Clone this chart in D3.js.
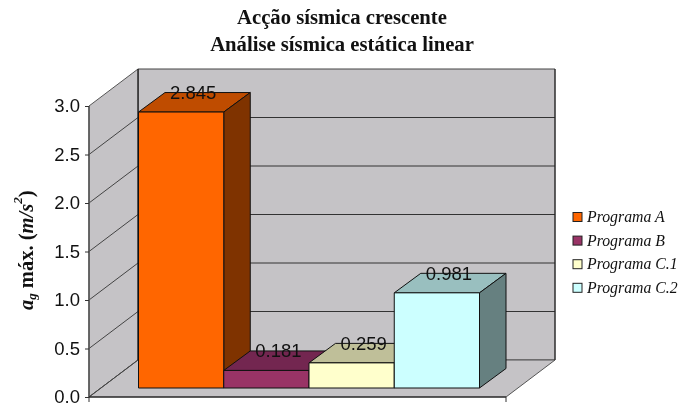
<!DOCTYPE html>
<html><head><meta charset="utf-8">
<script src="https://cdn.jsdelivr.net/npm/d3@7/dist/d3.min.js"></script>
<style>html,body{margin:0;background:#fff}svg{display:block;filter:blur(0.3px)}</style></head>
<body><svg id="c" width="680" height="405"></svg>
<script>
const titleLines = ["Acção sísmica crescente", "Análise sísmica estática linear"];
const categories = ["Programa A", "Programa B", "Programa C.1", "Programa C.2"];
const values = [2.845, 0.181, 0.259, 0.981];
const labels = ["2.845", "0.181", "0.259", "0.981"];
const ticks = [0, 0.5, 1, 1.5, 2, 2.5, 3];
const faceColors = ["#FF6600", "#993366", "#FFFFCC", "#CCFFFF"];
const topColors = ["#BF4C00", "#732650", "#BFBF99", "#99BFBF"];
const sideColors = ["#7F3300", "#4D1A33", "#808066", "#668080"];

const svg = d3.select("#c");
const wall = "#C5C3C6";
const y = d3.scaleLinear().domain([0, 3]).range([397, 106]);
const x0 = 89, x1 = 506, depthX = 49, depthY = 37;
const barX = d3.scaleBand().domain(categories).range([138.5, 479.5]);
const barBase = -9, bdX = 26.5, bdY = 19.5;
const poly = (pts, fill, stroke, w) => svg.append("polygon")
  .attr("points", pts.map(p => p.join(",")).join(" "))
  .attr("fill", fill).attr("stroke", stroke).attr("stroke-width", w);
const line = (a, b, c, w) => svg.append("line").attr("x1", a[0]).attr("y1", a[1]).attr("x2", b[0]).attr("y2", b[1])
  .attr("stroke", c).attr("stroke-width", w);

// walls
const y0 = y(0), y3 = y(3);
poly([[x0 + depthX, y3 - depthY], [x1 + depthX, y3 - depthY], [x1 + depthX, y0 - depthY], [x0 + depthX, y0 - depthY]], wall, "#444", 1);
poly([[x0, y3], [x0 + depthX, y3 - depthY], [x0 + depthX, y0 - depthY], [x0, y0]], wall, "#555", 1);
poly([[x0, y0], [x0 + depthX, y0 - depthY], [x1 + depthX, y0 - depthY], [x1, y0]], wall, "#555", 1);

// gridlines
ticks.forEach(t => {
  const yy = y(t);
  if (t > 0 && t < 3) line([x0 + depthX, yy - depthY], [x1 + depthX, yy - depthY], "#333", 1);
  if (t < 3) line([x0, yy], [x0 + depthX, yy - depthY], "#444", 1);
});
line([x0 + depthX, y3 - depthY], [x0 + depthX, y0 - depthY], "#111", 1);
line([x1 + depthX, y3 - depthY], [x1 + depthX, y0 - depthY], "#222", 1);
line([x0, y3], [x0, y0], "#555", 1.5);
line([x0, y0], [x1, y0], "#111", 1);

// axis
const axis = d3.axisLeft(y).tickValues(ticks).tickFormat(d3.format(".1f")).tickSize(4).tickPadding(5);
const ag = svg.append("g").attr("transform", `translate(${x0},0)`).call(axis);
ag.select(".domain").remove();
ag.selectAll("line").attr("stroke", "#333");
ag.selectAll("text").attr("font-family", "'Liberation Sans'").attr("font-size", 18.5).attr("fill", "#111");
line([x0, y0], [x0, y0 + 5], "#333", 1);
line([x1, y0], [x1, y0 + 5], "#333", 1);

// bars
categories.forEach((c, i) => {
  const l = barX(c), r = l + barX.bandwidth();
  const base = y(0) + barBase, top = y(values[i]) + barBase;
  poly([[l, top], [l + bdX, top - bdY], [r + bdX, top - bdY], [r, top]], topColors[i], "#111", 1);
  poly([[r, top], [r + bdX, top - bdY], [r + bdX, base - bdY], [r, base]], sideColors[i], "#111", 1);
  poly([[l, top], [r, top], [r, base], [l, base]], faceColors[i], "#111", 1);
  svg.append("text").attr("x", (l + r) / 2 + 12).attr("y", top - 13).attr("text-anchor", "middle")
    .attr("font-family", "'Liberation Sans'").attr("font-size", 18.5).attr("fill", "#111").text(labels[i]);
});

// title
titleLines.forEach((t, i) => svg.append("text").attr("x", 342).attr("y", 24 + i * 26.5)
  .attr("text-anchor", "middle").attr("font-family", "'Liberation Serif'").attr("font-weight", "bold")
  .attr("font-size", 20.7).attr("fill", "#111").text(t));

// y title
const yt = svg.append("text").attr("transform", "translate(33,310) rotate(-90)")
  .attr("font-family", "'Liberation Serif'").attr("font-weight", "bold").attr("font-size", 20.5).attr("fill", "#111");
yt.append("tspan").attr("font-style", "italic").text("a");
yt.append("tspan").attr("font-style", "italic").attr("font-size", 13).attr("dy", 3).text("g");
yt.append("tspan").attr("dy", -3).text(" máx. (");
yt.append("tspan").attr("font-style", "italic").text("m/s");
yt.append("tspan").attr("font-style", "italic").attr("font-size", 13).attr("dy", -11).text("2");
yt.append("tspan").attr("dy", 11).text(")");

// legend
categories.forEach((c, i) => {
  const ly = 217 + i * 23.6;
  svg.append("rect").attr("x", 573).attr("y", ly - 4.5).attr("width", 9).attr("height", 9)
    .attr("fill", faceColors[i]).attr("stroke", "#222").attr("stroke-width", 1);
  svg.append("text").attr("x", 587).attr("y", ly + 5).attr("font-family", "'Liberation Serif'")
    .attr("font-style", "italic").attr("font-size", 15.8).attr("fill", "#111").text(c);
});
</script></body></html>
